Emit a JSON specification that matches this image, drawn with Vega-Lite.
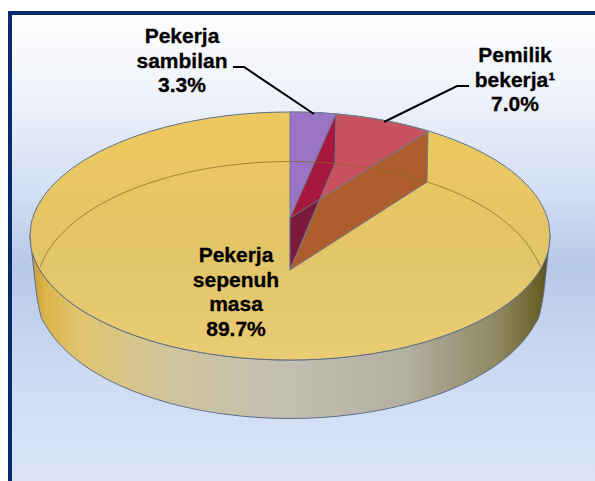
{"$schema":"https://vega.github.io/schema/vega-lite/v6.json","width":595,"height":481,"autosize":{"type":"none"},"padding":0,"background":"white","view":{"stroke":null},
"datasets":{
"panel":[{"x":-280,"x2":305,"y":223,"y2":-245}],
"frame":[{"o":1,"x":-280,"y":-245},{"o":2,"x":-280,"y":223},{"o":3,"x":305,"y":223}],
"face":[{"x":-260,"hi":0,"lo":0},{"x":-259,"hi":10.9,"lo":-10.9},{"x":-257,"hi":18.8,"lo":-18.8},{"x":-254,"hi":26.5,"lo":-26.5},{"x":-250,"hi":34.1,"lo":-34.1},{"x":-244,"hi":42.8,"lo":-42.8},{"x":-236,"hi":52,"lo":-52},{"x":-225,"hi":62.1,"lo":-62.1},{"x":-210,"hi":73.1,"lo":-73.1},{"x":-190,"hi":84.6,"lo":-84.6},{"x":-165,"hi":95.8,"lo":-95.8},{"x":-135,"hi":106,"lo":-106},{"x":-100,"hi":114.5,"lo":-114.5},{"x":-65,"hi":120.1,"lo":-120.1},{"x":-30,"hi":123.2,"lo":-123.2},{"x":0,"hi":124,"lo":-124},{"x":30,"hi":123.2,"lo":-123.2},{"x":65,"hi":120.1,"lo":-120.1},{"x":100,"hi":114.5,"lo":-114.5},{"x":135,"hi":106,"lo":-106},{"x":165,"hi":95.8,"lo":-95.8},{"x":190,"hi":84.6,"lo":-84.6},{"x":210,"hi":73.1,"lo":-73.1},{"x":225,"hi":62.1,"lo":-62.1},{"x":236,"hi":52,"lo":-52},{"x":244,"hi":42.8,"lo":-42.8},{"x":250,"hi":34.1,"lo":-34.1},{"x":254,"hi":26.5,"lo":-26.5},{"x":257,"hi":18.8,"lo":-18.8},{"x":259,"hi":10.9,"lo":-10.9},{"x":260,"hi":0,"lo":0}],
"wall":[{"x":-260,"hi":0,"lo":0},{"x":-257,"hi":-18.8,"lo":-27},{"x":-254,"hi":-26.5,"lo":-54},{"x":-250,"hi":-34.1,"lo":-76.7},{"x":-244,"hi":-42.8,"lo":-89.7},{"x":-236,"hi":-52,"lo":-101.5},{"x":-225,"hi":-62.1,"lo":-113.6},{"x":-210,"hi":-73.1,"lo":-126.3},{"x":-190,"hi":-84.6,"lo":-139.3},{"x":-165,"hi":-95.8,"lo":-151.7},{"x":-135,"hi":-106,"lo":-162.8},{"x":-100,"hi":-114.5,"lo":-172.1},{"x":-65,"hi":-120.1,"lo":-178.2},{"x":-30,"hi":-123.2,"lo":-181.6},{"x":0,"hi":-124,"lo":-182.5},{"x":30,"hi":-123.2,"lo":-181.6},{"x":65,"hi":-120.1,"lo":-178.2},{"x":100,"hi":-114.5,"lo":-172.1},{"x":135,"hi":-106,"lo":-162.8},{"x":165,"hi":-95.8,"lo":-151.7},{"x":190,"hi":-84.6,"lo":-139.3},{"x":210,"hi":-73.1,"lo":-126.3},{"x":225,"hi":-62.1,"lo":-113.6},{"x":236,"hi":-52,"lo":-101.5},{"x":244,"hi":-42.8,"lo":-89.7},{"x":250,"hi":-34.1,"lo":-76.7},{"x":254,"hi":-26.5,"lo":-54},{"x":257,"hi":-18.8,"lo":-27},{"x":260,"hi":0,"lo":0}],
"wedges":[
{"part":"a_sambilan","o":1,"x":0,"y":124},{"part":"a_sambilan","o":2,"x":15,"y":123.8},{"part":"a_sambilan","o":3,"x":30,"y":123.2},{"part":"a_sambilan","o":4,"x":46,"y":122},{"part":"a_sambilan","o":5,"x":0,"y":18},{"part":"a_sambilan","o":6,"x":0,"y":124},
{"part":"b_pemilik","o":1,"x":46,"y":122},{"part":"b_pemilik","o":2,"x":65,"y":120.1},{"part":"b_pemilik","o":3,"x":85,"y":117.3},{"part":"b_pemilik","o":4,"x":100,"y":114.5},{"part":"b_pemilik","o":5,"x":120,"y":110},{"part":"b_pemilik","o":6,"x":138,"y":104.5},{"part":"b_pemilik","o":7,"x":0,"y":18},{"part":"b_pemilik","o":8,"x":46,"y":122},
{"part":"c_wall1","o":1,"x":46,"y":122},{"part":"c_wall1","o":2,"x":45,"y":73},{"part":"c_wall1","o":3,"x":0,"y":-34},{"part":"c_wall1","o":4,"x":0,"y":18},{"part":"c_wall1","o":5,"x":46,"y":122},
{"part":"d_wall2","o":1,"x":0,"y":18},{"part":"d_wall2","o":2,"x":30,"y":37},{"part":"d_wall2","o":3,"x":0,"y":-34},{"part":"d_wall2","o":4,"x":0,"y":18},
{"part":"e_wall3","o":1,"x":30,"y":37},{"part":"e_wall3","o":2,"x":138,"y":104.5},{"part":"e_wall3","o":3,"x":137,"y":54},{"part":"e_wall3","o":4,"x":0,"y":-34},{"part":"e_wall3","o":5,"x":30,"y":37}],
"baseArc":[{"x":-250,"y":-31.3},{"x":-244,"y":-18.3},{"x":-236,"y":-6.5},{"x":-225,"y":5.6},{"x":-210,"y":18.3},{"x":-190,"y":31.3},{"x":-165,"y":43.7},{"x":-135,"y":54.8},{"x":-100,"y":64.1},{"x":-65,"y":70.2},{"x":-30,"y":73.6},{"x":0,"y":74.5},{"x":30,"y":73.6},{"x":65,"y":70.2},{"x":100,"y":64.1},{"x":135,"y":54.8},{"x":165,"y":43.7},{"x":190,"y":31.3},{"x":210,"y":18.3},{"x":225,"y":5.6},{"x":236,"y":-6.5},{"x":244,"y":-18.3},{"x":251,"y":-31.3}],
"leaders":[{"k":"a","o":1,"x":-57,"y":169},{"k":"a","o":2,"x":-46,"y":169},{"k":"a","o":3,"x":24,"y":122},{"k":"b","o":1,"x":179,"y":150},{"k":"b","o":2,"x":167,"y":150},{"k":"b","o":3,"x":94,"y":114}],
"labels":[{"x":-108,"y":193,"share":3.3,"t":"Pekerja\nsambilan\n3.3%"},{"x":225,"y":174,"share":7.0,"t":"Pemilik\nbekerja¹\n 7.0%"},{"x":-54,"y":-26,"share":89.7,"t":"Pekerja\nsepenuh\nmasa\n89.7%"}]
},
"encoding":{"x":{"field":"x","type":"quantitative","axis":null,"scale":{"domain":[-290,305],"nice":false,"zero":false}},"y":{"field":"y","type":"quantitative","axis":null,"scale":{"domain":[-245,236],"nice":false,"zero":false}}},
"layer":[
{"data":{"name":"panel"},"mark":{"type":"rect","fill":{"gradient":"linear","x1":0,"y1":0,"x2":0,"y2":1,"stops":[{"offset":0,"color":"#FFFFFF"},{"offset":0.19,"color":"#EDF1FA"},{"offset":0.4,"color":"#CFDCF2"},{"offset":0.54,"color":"#B7C9E8"},{"offset":0.78,"color":"#CEDBF4"},{"offset":1,"color":"#DBE5F6"}]}},"encoding":{"x2":{"field":"x2"},"y2":{"field":"y2"}}},
{"data":{"name":"frame"},"mark":{"type":"line","stroke":"#0A2A6E","strokeWidth":4,"strokeJoin":"miter"},"encoding":{"order":{"field":"o"}}},
{"data":{"name":"wall"},"mark":{"type":"area","interpolate":"monotone","stroke":"#5F6E8A","strokeWidth":1,"fill":{"gradient":"linear","x1":0,"y1":0,"x2":1,"y2":0,"stops":[{"offset":0,"color":"#C09A38"},{"offset":0.03,"color":"#DDB54A"},{"offset":0.1,"color":"#E0C572"},{"offset":0.27,"color":"#CFC49C"},{"offset":0.5,"color":"#C2BFB2"},{"offset":0.72,"color":"#B3B0A0"},{"offset":0.9,"color":"#8F8862"},{"offset":0.98,"color":"#6A6028"},{"offset":1,"color":"#504818"}]}},"encoding":{"y":{"field":"hi","type":"quantitative"},"y2":{"field":"lo"}}},
{"data":{"name":"face"},"mark":{"type":"area","interpolate":"monotone","stroke":"#5F6E8A","strokeWidth":1,"fill":{"gradient":"linear","x1":0,"y1":0,"x2":0,"y2":1,"stops":[{"offset":0,"color":"#EEC85E"},{"offset":0.55,"color":"#E2C567"},{"offset":1,"color":"#E9CC74"}]}},"encoding":{"y":{"field":"hi","type":"quantitative"},"y2":{"field":"lo"}}},
{"data":{"name":"wedges"},"mark":{"type":"line","stroke":"#6F7A90","strokeWidth":1},"encoding":{"detail":{"field":"part"},"order":{"field":"o"},"fill":{"field":"part","legend":null,"scale":{"domain":["a_sambilan","b_pemilik","c_wall1","d_wall2","e_wall3"],"range":["#9A74C6","#C9525F","#A8173D","#7C1A3C","#AE5E2C"]}}}},
{"data":{"name":"baseArc"},"mark":{"type":"line","interpolate":"monotone","stroke":"#8A6A20","strokeWidth":0.9,"opacity":0.8}},
{"data":{"name":"leaders"},"mark":{"type":"line","stroke":"#000000","strokeWidth":2},"encoding":{"detail":{"field":"k"},"order":{"field":"o"}}},
{"data":{"name":"labels"},"mark":{"type":"text","font":"Liberation Sans","fontWeight":"bold","fontSize":21,"lineHeight":24.5,"lineBreak":"\n","align":"center","baseline":"alphabetic","color":"#000000","stroke":"#000000","strokeWidth":0.3},"encoding":{"text":{"field":"t"}}}
]}
